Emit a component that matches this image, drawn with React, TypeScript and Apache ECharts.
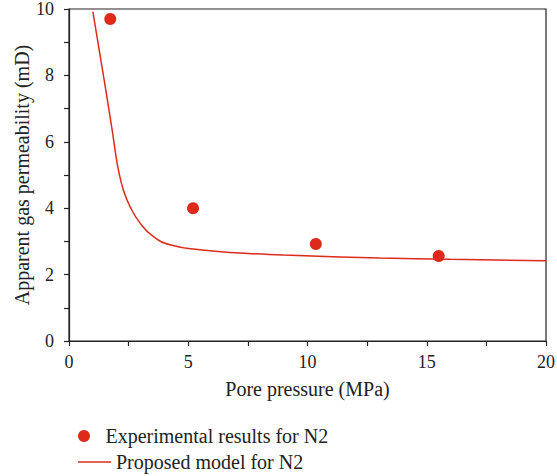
import React, { useEffect, useRef } from "react";
import * as echarts from "echarts";

const expX = [1.73, 5.2, 10.35, 15.5];
const expY = [9.7, 4.0, 2.92, 2.56];

const modelX = [1.0, 1.42, 1.83, 1.93, 2.07, 2.28, 2.56, 2.98, 3.53, 4.23, 5.49, 7.17, 9.0, 11.36, 13.04, 16.0, 20.0];
const modelY = [9.92, 8.1, 6.26, 5.76, 5.16, 4.55, 4.05, 3.55, 3.15, 2.9, 2.75, 2.65, 2.59, 2.53, 2.5, 2.46, 2.42];

const RED = "#dd2a1b";
const FONT = "'Liberation Serif', 'Times New Roman', serif";
const FS = 20;
const TICK_FS = 18;

export default function App() {
  const ref = useRef<HTMLDivElement>(null);
  useEffect(() => {
    const chart = echarts.init(ref.current!, null, { renderer: "svg" });
    const axisCommon = {
      axisLine: { show: true, lineStyle: { color: "#222", width: 1.2 } },
      axisTick: { show: true, inside: false, length: 5, lineStyle: { color: "#222", width: 1.2 } },
      minorTick: { show: true, splitNumber: 2, length: 5, lineStyle: { color: "#222", width: 1.2 } },
      splitLine: { show: false },
      nameLocation: "middle" as const,
      nameMoveOverlap: false,
      nameTextStyle: { fontFamily: FONT, fontSize: FS, color: "#222" },
    };
    const legendText = { fontFamily: FONT, fontSize: FS, color: "#222" };
    chart.setOption({
      animation: false,
      textStyle: { fontFamily: FONT },
      grid: {
        left: 69, right: 11, top: 9, bottom: 135,
        containLabel: false,
        outerBoundsMode: "none",
        show: true, borderColor: "#222", borderWidth: 1.2,
      },
      xAxis: {
        ...axisCommon,
        type: "value", min: 0, max: 20, interval: 5,
        name: "Pore pressure (MPa)", nameGap: 38,
        axisLabel: { fontFamily: FONT, fontSize: TICK_FS, color: "#222", margin: 12 },
      },
      yAxis: {
        ...axisCommon,
        type: "value", min: 0, max: 10, interval: 2,
        name: "Apparent gas permeability (mD)", nameGap: 37,
        axisLabel: { fontFamily: FONT, fontSize: TICK_FS, color: "#222", margin: 15 },
      },
      legend: [
        {
          left: 73, top: 421,
          itemWidth: 33, itemHeight: 12, itemGap: 10,
          textStyle: legendText,
          data: [{ name: "Experimental results for N2", icon: "circle" }],
        },
        {
          left: 73, top: 447,
          itemWidth: 33, itemHeight: 12, itemGap: 10,
          textStyle: legendText,
          data: [{ name: "Proposed model for N2", icon: "path://M0,0H33V1.5H0Z" }],
        },
      ],
      series: [
        {
          name: "Experimental results for N2",
          type: "scatter",
          symbol: "circle",
          symbolSize: 12,
          itemStyle: { color: RED, opacity: 1 },
          data: expX.map((x, i) => [x, expY[i]]),
          z: 3,
        },
        {
          name: "Proposed model for N2",
          type: "line",
          smooth: 0.5,
          symbol: "none",
          lineStyle: { color: RED, width: 1.5 },
          itemStyle: { color: RED },
          data: modelX.map((x, i) => [x, modelY[i]]),
          z: 2,
        },
      ],
    });
    return () => chart.dispose();
  }, []);
  return <div ref={ref} style={{ width: 557, height: 476, position: "absolute", left: 0, top: 0 }} />;
}
